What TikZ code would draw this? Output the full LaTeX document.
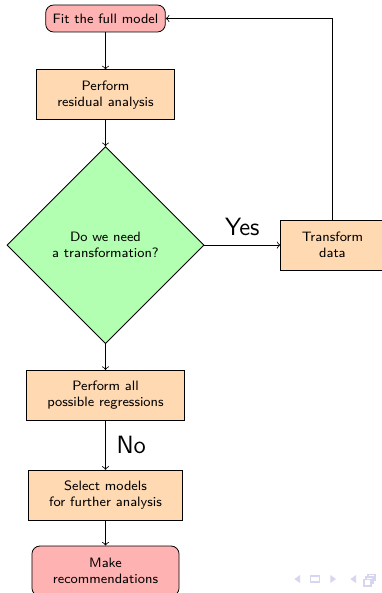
\documentclass[tikz,border=0pt]{standalone}
\usetikzlibrary{positioning, shapes.geometric, arrows}
\definecolor{navcol}{rgb}{0.84,0.84,0.94}

\begin{document}
\begin{tikzpicture}[font=\sffamily\fontsize{6.8}{8}\selectfont,
    startstop/.style={rectangle,rounded corners,draw,fill=red!30,align=center,inner xsep=3.5pt,inner ysep=2pt,minimum height=13.5pt},
    process/.style={rectangle,draw,fill=orange!30,align=center,inner xsep=10.5pt,minimum height=25pt},
    decision/.style={diamond,aspect=1,draw,fill=green!30,align=center,inner sep=0,minimum size=98.5pt},
    biglabel/.style={font=\sffamily\fontsize{12.5}{15}\selectfont}]
      \useasboundingbox (0,0) rectangle (190.5pt,-296.5pt);

      \node(fit)[startstop] at (52.75pt,-9.25pt){Fit the full model};
      \node(resid)[process,below=18.5pt of fit]{Perform\\residual analysis};
      \node(need)[decision,below=13pt of resid]{Do we need\\a transformation?};
      \node(trans)[process,right=38pt of need]{Transform\\data};
      \node(allreg)[process,below=13pt of need]{Perform all\\possible regressions};
      \node(select)[process,below=24.5pt of allreg]{Select models\\for further analysis};
      \node(recom)[startstop,inner xsep=10.5pt,inner ysep=3pt,minimum height=25pt,below=12.5pt of select]{Make\\recommendations};

      \draw[->](fit)--(resid);
      \draw[->](resid)--(need);
      \draw[->](need)--node(yes)[biglabel,above=1pt]{Yes}(trans);
      \draw[->](trans.north)|-(fit.east);
      \draw[->](need)--(allreg);
      \draw[->](allreg)--node(no)[biglabel,right=2pt]{No}(select);
      \draw[->](select)--(recom);

      \fill[navcol](150pt,-287.5pt)--(150pt,-291.5pt)--(147.2pt,-289.5pt)--cycle;
      \draw[navcol,line width=0.6pt](155.2pt,-288pt) rectangle (159.7pt,-291pt);
      \fill[navcol](165.2pt,-287.5pt)--(165.2pt,-291.5pt)--(168pt,-289.5pt)--cycle;
      \fill[navcol](178pt,-287.5pt)--(178pt,-291.5pt)--(175.2pt,-289.5pt)--cycle;
      \draw[navcol,line width=0.6pt,fill=white](184pt,-287.3pt) rectangle (187.5pt,-290.3pt);
      \draw[navcol,line width=0.6pt,fill=white](183pt,-288.5pt) rectangle (186.5pt,-291.5pt);
      \draw[navcol,line width=0.6pt,fill=white](182pt,-289.7pt) rectangle (185.5pt,-293pt);
    \end{tikzpicture}
\end{document}
